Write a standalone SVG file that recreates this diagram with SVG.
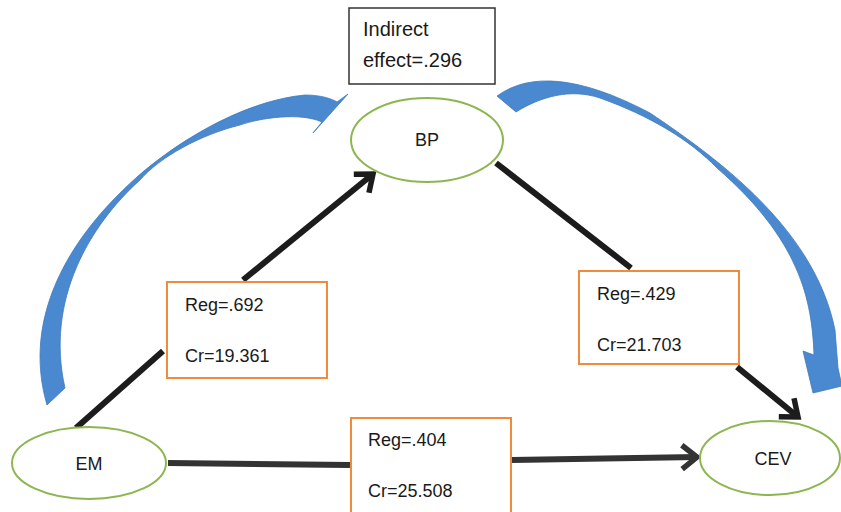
<svg xmlns="http://www.w3.org/2000/svg" width="841" height="512" viewBox="0 0 841 512">
<style>
  text { font-family: "Liberation Sans", Arial, sans-serif; fill: #1a1a1a; }
  .node { fill: #ffffff; stroke: #8db650; stroke-width: 2; }
  .lbl { fill: #ffffff; stroke: #f08a3c; stroke-width: 2; }
  .note { fill: #ffffff; stroke: #333333; stroke-width: 1.5; }
  .path { stroke: #1c1c1c; stroke-width: 6; fill: none; }
  .path2 { stroke: #333333; stroke-width: 6; fill: none; }
  .curve { fill: #4a89cf; stroke: #3f7bbd; stroke-width: 0.8; }
  .t18 { font-size: 18px; }
  .t20 { font-size: 20px; }
</style>
<defs>
  <marker id="open" viewBox="-20 -16 26 32" refX="0" refY="0" markerWidth="26" markerHeight="32" markerUnits="userSpaceOnUse" orient="auto">
    <path d="M -15 -12 L 0 0 L -15 12" fill="none" stroke="#1c1c1c" stroke-width="5.5" stroke-linejoin="miter"/>
  </marker>
  <marker id="open2" viewBox="-20 -16 26 32" refX="0" refY="0" markerWidth="26" markerHeight="32" markerUnits="userSpaceOnUse" orient="auto">
    <path d="M -15 -12 L 0 0 L -15 12" fill="none" stroke="#333333" stroke-width="5.5" stroke-linejoin="miter"/>
  </marker>
</defs>
<rect width="841" height="512" fill="#ffffff"/>

<g id="connectors">
  <!-- EM -> BP -->
  <line class="path" x1="76" y1="428" x2="163" y2="351"/>
  <line class="path" x1="243" y1="280" x2="373" y2="174" marker-end="url(#open)"/>
  <!-- BP -> CEV -->
  <line class="path" x1="496" y1="163" x2="631" y2="268"/>
  <line class="path" x1="737" y1="367" x2="798" y2="417" marker-end="url(#open)"/>
  <!-- EM -> CEV -->
  <line class="path2" x1="168" y1="463" x2="350" y2="465"/>
  <line class="path2" x1="512" y1="460" x2="697" y2="457" marker-end="url(#open2)"/>
  <!-- curved indirect-effect arrows -->
  <path class="curve" d="M 47 405 C 25 330, 55 250, 137 177 C 185 135, 250 100, 305 95 C 322 95, 332 99, 337 102 L 348 94 L 313 133 L 322 122 C 300 112, 260 118, 240 125 C 200 135, 160 157, 140 180 C 90 225, 45 300, 65 388 Z"/>
  <path class="curve" d="M 497 96 C 530 72, 580 76, 650 113 C 720 160, 815 230, 835 330 L 838 368 L 842 386 L 813 393 L 803 351 L 814 355 C 812 300, 800 240, 717 168 C 690 140, 650 116, 600 98 C 570 88, 540 97, 516 112 Z"/>
</g>

<g id="indirect-effect">
  <rect class="note" x="349" y="8" width="146" height="76"/>
  <text class="t20" x="363" y="36">Indirect</text>
  <text class="t20" x="363" y="67">effect=.296</text>
</g>

<g id="node-BP">
  <ellipse class="node" cx="427" cy="140" rx="76" ry="42"/>
  <text class="t18" x="427" y="146" text-anchor="middle">BP</text>
</g>

<g id="node-EM">
  <ellipse class="node" cx="89" cy="463" rx="77" ry="36"/>
  <text class="t18" x="89" y="470" text-anchor="middle">EM</text>
</g>

<g id="node-CEV">
  <ellipse class="node" cx="770" cy="458" rx="70" ry="37"/>
  <text class="t18" x="773" y="465" text-anchor="middle">CEV</text>
</g>

<g id="label-EM-BP">
  <rect class="lbl" x="167" y="282" width="160" height="96"/>
  <text class="t18" x="185" y="311">Reg=.692</text>
  <text class="t18" x="185" y="362">Cr=19.361</text>
</g>

<g id="label-BP-CEV">
  <rect class="lbl" x="579" y="271" width="160" height="93"/>
  <text class="t18" x="597" y="300">Reg=.429</text>
  <text class="t18" x="597" y="351">Cr=21.703</text>
</g>

<g id="label-EM-CEV">
  <rect class="lbl" x="351" y="418" width="160" height="100"/>
  <text class="t18" x="368" y="446">Reg=.404</text>
  <text class="t18" x="368" y="497">Cr=25.508</text>
</g>
</svg>
